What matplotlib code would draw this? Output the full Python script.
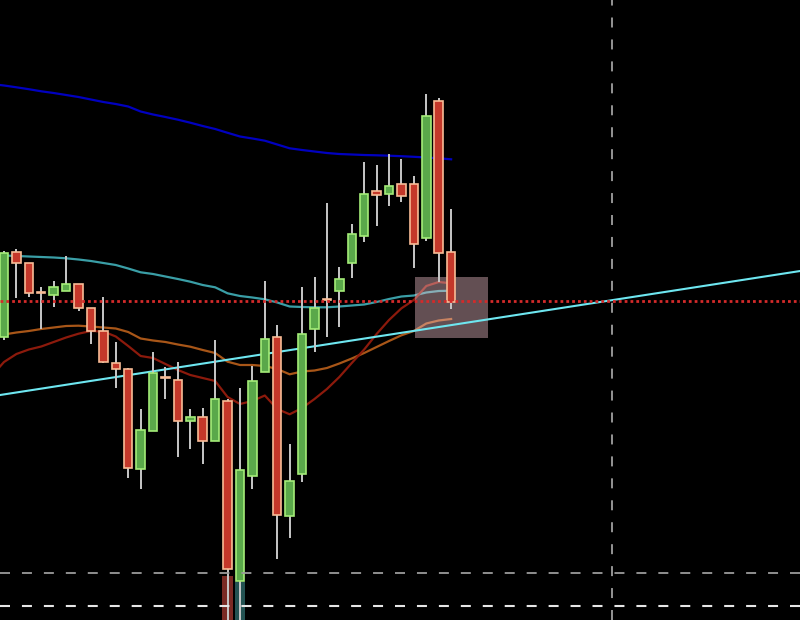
import matplotlib
matplotlib.use("Agg")
import matplotlib.pyplot as plt
import numpy as np

plt.rcParams['lines.scale_dashes'] = False

# ---- data (price units) ----
opens  = [283, 368, 357, 328, 325, 329, 336, 312, 289, 257, 251, 151, 189, 243, 240, 199, 203, 179, 219, 39,
          144, 248, 283, 104, 146, 291, 321, 329, 357, 384, 429, 426, 436, 436, 382, 519, 368]
highs  = [369, 371, 357, 333, 339, 364, 336, 312, 323, 278, 252, 211, 268, 253, 258, 211, 212, 280, 221, 232,
          254, 339, 295, 176, 333, 343, 417, 353, 396, 458, 455, 466, 461, 444, 526, 522, 411]
lows   = [280, 322, 323, 291, 313, 329, 309, 276, 257, 232, 142, 131, 189, 221, 163, 171, 156, 179, -20, -20,
          131, 248, 61, 82, 138, 268, 283, 293, 342, 378, 394, 414, 418, 352, 379, 338, 311]
closes = [367, 357, 327, 327, 333, 336, 312, 289, 258, 251, 152, 190, 247, 242, 199, 203, 179, 221, 51, 150,
          239, 281, 105, 139, 286, 312, 320, 341, 386, 426, 425, 434, 424, 376, 504, 367, 318]

ma_x = list(range(-1, 37))
ma_blue = [536, 534.5, 532.7, 530.8, 528.7, 527, 525, 523, 520.5, 518, 516, 513.5, 508.5, 505.5, 503, 500.3,
           497.3, 494, 491, 487.2, 483.5, 481.5, 479.3, 475.5, 471.7, 470, 468.5, 467, 466, 465.5, 465, 464.7,
           464.3, 463.8, 463.2, 462.5, 461.7, 460.7]
ma_teal = [365, 364.5, 364, 363.5, 363, 362.5, 361.7, 360.5, 359, 357, 355, 351.5, 347.7, 346, 343.5, 341,
           338.3, 335, 332.7, 326.7, 324, 322.5, 320.7, 317.5, 313.5, 313, 312.7, 312.7, 313.5, 314.5, 315.5,
           318, 321, 323.5, 324.5, 327.5, 329, 329.3]
ma_orange = [284, 285.5, 287.5, 289, 291, 292.5, 294, 294.3, 293.5, 292.5, 291.5, 288, 281.5, 279.5, 278,
             275.5, 273.3, 270, 267, 258.3, 255, 255, 254, 251, 245.7, 248.5, 249.5, 252, 256.5, 261.5, 267,
             273, 279, 284.7, 289, 296.5, 299.5, 301]
ma_red = [244, 258, 266, 270.5, 273.5, 278, 282.5, 286.3, 289, 288.5, 283.5, 274, 264, 262, 256, 250, 245,
          242, 239, 223, 216, 219, 224.5, 211, 205.7, 212, 221, 231, 243, 257, 270.5, 286, 300, 311.7, 320,
          334, 338, 336.7]

trend_pts = [(0, 225.6), (60, 341.1)]
price_level = 319.5
vline_x = 48.95
hline_gray = 47
hline_white = 14
box_x = (33.09, 38.97)
box_y = (282, 343)
shadow_idx = [18, 19]
shadow_top = [44, 38]

# ---- figure ----
fig = plt.figure(figsize=(8, 6.2), dpi=100, facecolor='black')
ax = fig.add_axes([0, 0, 1, 1])
ax.set_facecolor('black')
ax.set_xlim(-0.322, 64.09)
ax.set_ylim(0, 620)
ax.axis('off')

# moving averages
ax.plot(ma_x, ma_blue, color='#0000c0', lw=1.6, zorder=2)
ax.plot(ma_x, ma_teal, color='#3a9ea6', lw=1.6, zorder=2)
ax.plot(ma_x, ma_orange, color='#a85618', lw=1.6, zorder=2)
ax.plot(ma_x, ma_red, color='#8c1a0c', lw=1.6, zorder=2)

# translucent box
ax.bar((box_x[0] + box_x[1]) / 2, box_y[1] - box_y[0], bottom=box_y[0], width=box_x[1] - box_x[0],
       color=(0.98, 0.78, 0.82), alpha=0.4, lw=0, zorder=3)

# trend line
ax.axline(trend_pts[0], trend_pts[1], color='#6ee6f0', lw=1.5, zorder=4)

# shadows below chart bottom
sh_colors = ['#7a2a24', '#235252']
for i, t, c in zip(shadow_idx, shadow_top, sh_colors):
    ax.bar(i, t + 10, bottom=-10, width=0.85, color=c, lw=0, zorder=4.5)

# candles
w = 0.68
x = np.arange(len(opens))
ax.vlines(x, lows, highs, color='#c8c8c8', lw=1.4, zorder=5)
o = np.array(opens, float)
c = np.array(closes, float)
up = c > o
dn = ~up
ax.bar(x[up], (c - o)[up], bottom=o[up], width=w, color='#5aa84a', edgecolor='#a4ec78', lw=1.2, zorder=6)
ax.bar(x[dn], np.maximum((o - c)[dn], 0.8), bottom=c[dn], width=w, color='#c4382a', edgecolor='#f8bc96',
       lw=1.2, zorder=6)

# red dotted price line
ax.axhline(price_level, color='#d42a2a', lw=2, dashes=(2.0, 2.2), zorder=7)

# dashed lines
ax.axhline(hline_gray, color='#9a9a9a', lw=1.3, dashes=(7.2, 8.6), zorder=7)
ax.axhline(hline_white, color='#e6e6e6', lw=1.5, dashes=(7.2, 8.6), zorder=7)
ax.axvline(vline_x, color='#a0a0a0', lw=1.3, dashes=(7.2, 8.6), zorder=7)

fig.savefig('out.png', dpi=100, facecolor='black')
